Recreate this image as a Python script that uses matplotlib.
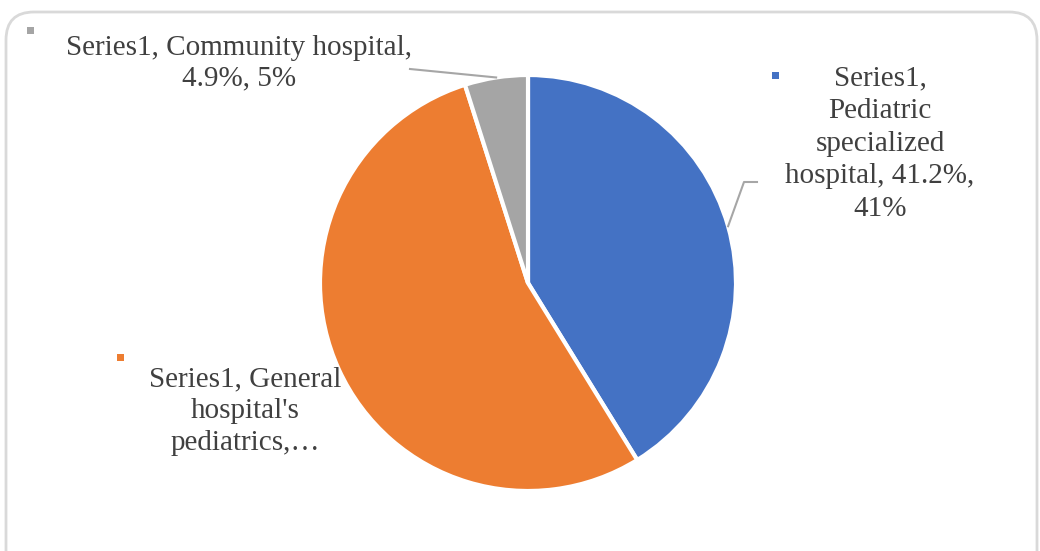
import numpy as np
import matplotlib
matplotlib.use("Agg")
import matplotlib.pyplot as plt
from matplotlib.patches import FancyBboxPatch, Rectangle

# Data
categories = ["Pediatric specialized hospital", "General hospital's pediatrics", "Community hospital"]
shares = [41.2, 53.9, 4.9]
label_lines = [
    "Series1,\nPediatric\nspecialized\nhospital, 41.2%,\n41%",
    "Series1, General\nhospital's\npediatrics,\u2026",
    "Series1, Community hospital,\n4.9%, 5%",
]
colors = ["#4472C4", "#ED7D31", "#A5A5A5"]

plt.rcParams["font.family"] = "serif"
plt.rcParams["font.serif"] = ["Liberation Serif", "DejaVu Serif"]

# Canvas (pixel coordinates, y up)
W, H = 1040, 551
fig = plt.figure(figsize=(W / 100, H / 100), dpi=100)
ax = fig.add_axes([0, 0, 1, 1])

cx, cy, r = 528, H - 283, 208
wedges, _ = ax.pie(shares, colors=colors, startangle=90, counterclock=False,
                   center=(cx, cy), radius=r,
                   wedgeprops=dict(edgecolor="white", linewidth=3))
ax.set_xlim(0, W)
ax.set_ylim(0, H)
ax.set_aspect("auto")
ax.axis("off")

# outer frame
frame = FancyBboxPatch((6, -40), 1031, H - 12 + 40, boxstyle="round,pad=0,rounding_size=28",
                       facecolor="none", edgecolor="#d9d9d9", linewidth=2, zorder=0)
ax.add_patch(frame)

# label positions (x center, y of first line top, marker x, marker y, line spacing)
label_pos = [(880, H - 65, 775, H - 75, 1.34), (245, H - 366, 120, H - 357, 1.31),
             (239, H - 35, 30, H - 30, 1.23)]
elbows = [[(744, H - 182), (757, H - 182)], None, [(410, H - 69)]]

for i, w in enumerate(wedges):
    tx, ty, mx, my, ls = label_pos[i]
    ax.text(tx, ty, label_lines[i], ha="center", va="top", linespacing=ls,
            fontsize=21, color="#404040")
    ax.add_patch(Rectangle((mx - 3.5, my - 3.5), 7, 7, facecolor=colors[i], edgecolor="none"))
    if elbows[i]:
        ang = np.deg2rad((w.theta1 + w.theta2) / 2)
        px, py = cx + r * np.cos(ang), cy + r * np.sin(ang)
        xs = [px] + [p[0] for p in elbows[i]]
        ys = [py] + [p[1] for p in elbows[i]]
        ax.plot(xs, ys, color="#A6A6A6", linewidth=1.5)

fig.savefig("out.png", dpi=100)
